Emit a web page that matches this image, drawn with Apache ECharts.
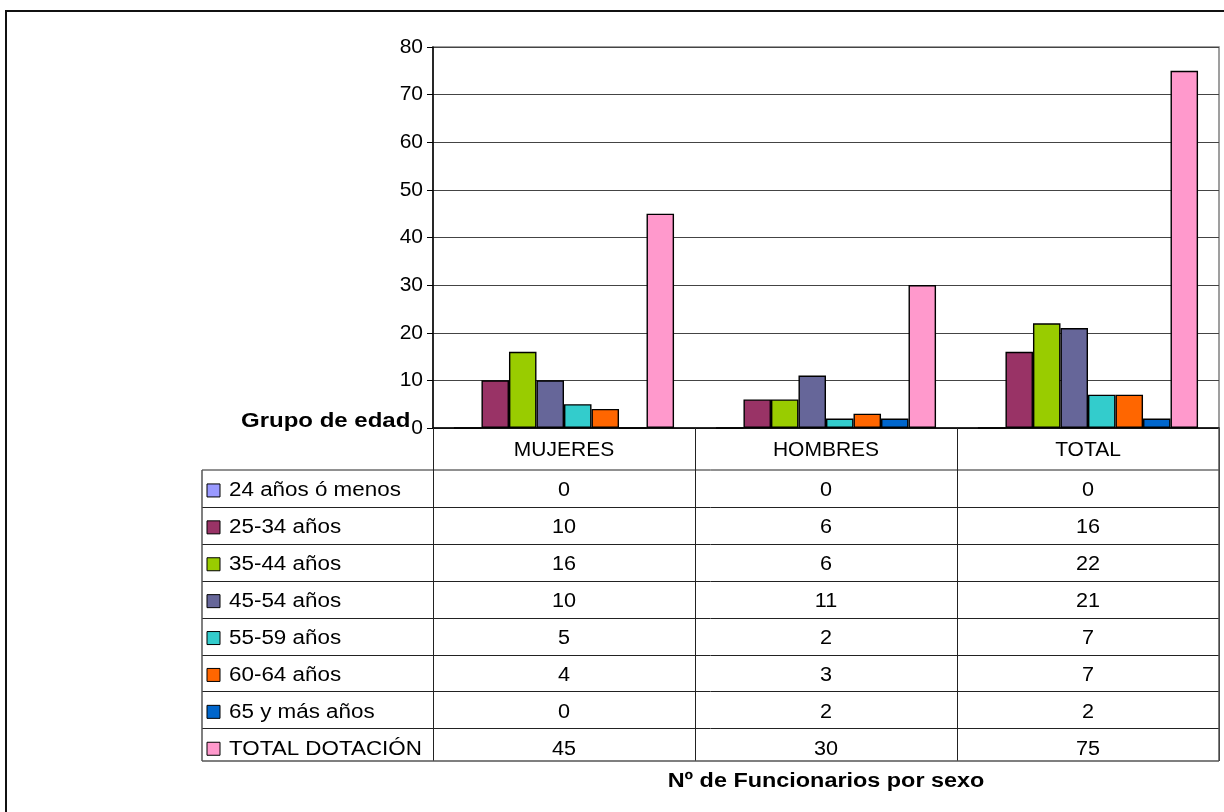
<!DOCTYPE html>
<html>
<head>
<meta charset="utf-8">
<script src="https://cdn.jsdelivr.net/npm/echarts@6/dist/echarts.min.js"></script>
<style>html,body{margin:0;padding:0;background:#fff}#c{width:1224px;height:812px}</style>
</head>
<body>
<div id="c"></div>
<script>
const categories = ['MUJERES', 'HOMBRES', 'TOTAL'];
const seriesNames = ['24 años ó menos', '25-34 años', '35-44 años', '45-54 años', '55-59 años', '60-64 años', '65 y más años', 'TOTAL DOTACIÓN'];
const v24menos = [0, 0, 0];
const v25_34 = [10, 6, 16];
const v35_44 = [16, 6, 22];
const v45_54 = [10, 11, 21];
const v55_59 = [5, 2, 7];
const v60_64 = [4, 3, 7];
const v65mas = [0, 2, 2];
const vTotal = [45, 30, 75];
const seriesValues = [v24menos, v25_34, v35_44, v45_54, v55_59, v60_64, v65mas, vTotal];
const colors = ['#9999FF', '#993366', '#99CC00', '#666699', '#33CCCC', '#FF6600', '#0066CC', '#FF99CC'];
const yMin = 0, yMax = 80, yInterval = 10;
const axisTitle = 'Grupo de edad';
const xTitle = 'Nº de Funcionarios por sexo';

// layout
const W = 1224, H = 812;
const plotL = 433, plotR = 1219, plotT = 47, plotB = 428;
const tableL = 202, headerB = 470, rowH = 36.9, tableB = 761;
const colW = (plotR - plotL) / categories.length;

const chart = echarts.init(document.getElementById('c'), null, {renderer: 'canvas'});

const graphics = [];
// outer border
graphics.push({type: 'rect', shape: {x: 6, y: 11, width: 1300, height: 900}, style: {fill: 'none', stroke: '#111', lineWidth: 2}, z: 0, silent: true});
// table lines
const lineStyle = {stroke: '#222', lineWidth: 1};
graphics.push({type: 'line', shape: {x1: tableL, y1: headerB, x2: plotR, y2: headerB}, style: lineStyle, z: 10});
for (let i = 1; i < seriesNames.length; i++) {
  const y = Math.round(headerB + i * rowH) + 0.5;
  graphics.push({type: 'line', shape: {x1: tableL, y1: y, x2: plotR, y2: y}, style: lineStyle, z: 10});
}
graphics.push({type: 'line', shape: {x1: tableL, y1: tableB, x2: plotR, y2: tableB}, style: {stroke: '#555', lineWidth: 1.5}, z: 10});
graphics.push({type: 'line', shape: {x1: tableL, y1: headerB, x2: tableL, y2: tableB}, style: {stroke: '#555', lineWidth: 1.5}, z: 10});
graphics.push({type: 'line', shape: {x1: plotR, y1: plotB, x2: plotR, y2: tableB}, style: {stroke: '#555', lineWidth: 1.5}, z: 10});

// rows: legend key, label, values
seriesNames.forEach((name, i) => {
  const cy = headerB + (i + 0.5) * rowH + 2.5;
  graphics.push({type: 'rect', shape: {x: 207, y: cy - 7, width: 13, height: 13}, style: {fill: colors[i], stroke: '#000', lineWidth: 1}, z: 11});
  graphics.push({type: 'text', x: 229, y: cy, scaleX: 1.12, style: {text: name, fontFamily: 'Liberation Sans, Arial, sans-serif', fontSize: 20, fill: '#000', align: 'left', verticalAlign: 'middle'}, z: 11});
  seriesValues[i].forEach((v, j) => {
    graphics.push({type: 'text', x: plotL + (j + 0.5) * colW, y: cy, scaleX: 1.08, style: {text: String(v), fontFamily: 'Liberation Sans, Arial, sans-serif', fontSize: 20, fill: '#000', align: 'center', verticalAlign: 'middle'}, z: 11});
  });
});
// titles
graphics.push({type: 'text', x: 241, y: 421, scaleX: 1.2, style: {text: axisTitle, fontFamily: 'Liberation Sans, Arial, sans-serif', fontSize: 20, fontWeight: 'bold', fill: '#000', align: 'left', verticalAlign: 'middle'}, z: 12});
graphics.push({type: 'text', x: (plotL + plotR) / 2, y: 781, scaleX: 1.17, style: {text: xTitle, fontFamily: 'Liberation Sans, Arial, sans-serif', fontSize: 20, fontWeight: 'bold', fill: '#000', align: 'center', verticalAlign: 'middle'}, z: 12});

const option = {
  animation: false,
  backgroundColor: '#fff',
  textStyle: {fontFamily: 'Liberation Sans, Arial, sans-serif'},
  grid: {left: plotL, right: W - plotR, top: plotT, bottom: H - plotB, show: true, borderColor: '#808080', borderWidth: 1.5, containLabel: false},
  xAxis: {
    type: 'category',
    data: categories,
    axisLine: {show: true, lineStyle: {color: '#000', width: 1.5}},
    axisTick: {show: true, alignWithLabel: false, length: tableB - plotB, lineStyle: {color: '#222', width: 1}},
    axisLabel: {fontSize: 21, color: '#000', margin: 22, verticalAlign: 'middle'},
    splitLine: {show: false}
  },
  yAxis: {
    type: 'value',
    min: yMin, max: yMax, interval: yInterval,
    axisLine: {show: true, lineStyle: {color: '#000', width: 1.5}},
    axisTick: {show: true, length: 6, lineStyle: {color: '#000'}},
    axisLabel: {fontSize: 21, color: '#000', margin: 10},
    splitLine: {show: true, lineStyle: {color: '#444', width: 1}}
  },
  series: seriesNames.map((name, i) => ({
    name: name,
    type: 'bar',
    data: seriesValues[i],
    barGap: '0%',
    barCategoryGap: '16%',
    itemStyle: {color: colors[i], borderColor: '#000', borderWidth: 1.4}
  })),
  graphic: graphics
};
chart.setOption(option);
</script>
</body>
</html>
